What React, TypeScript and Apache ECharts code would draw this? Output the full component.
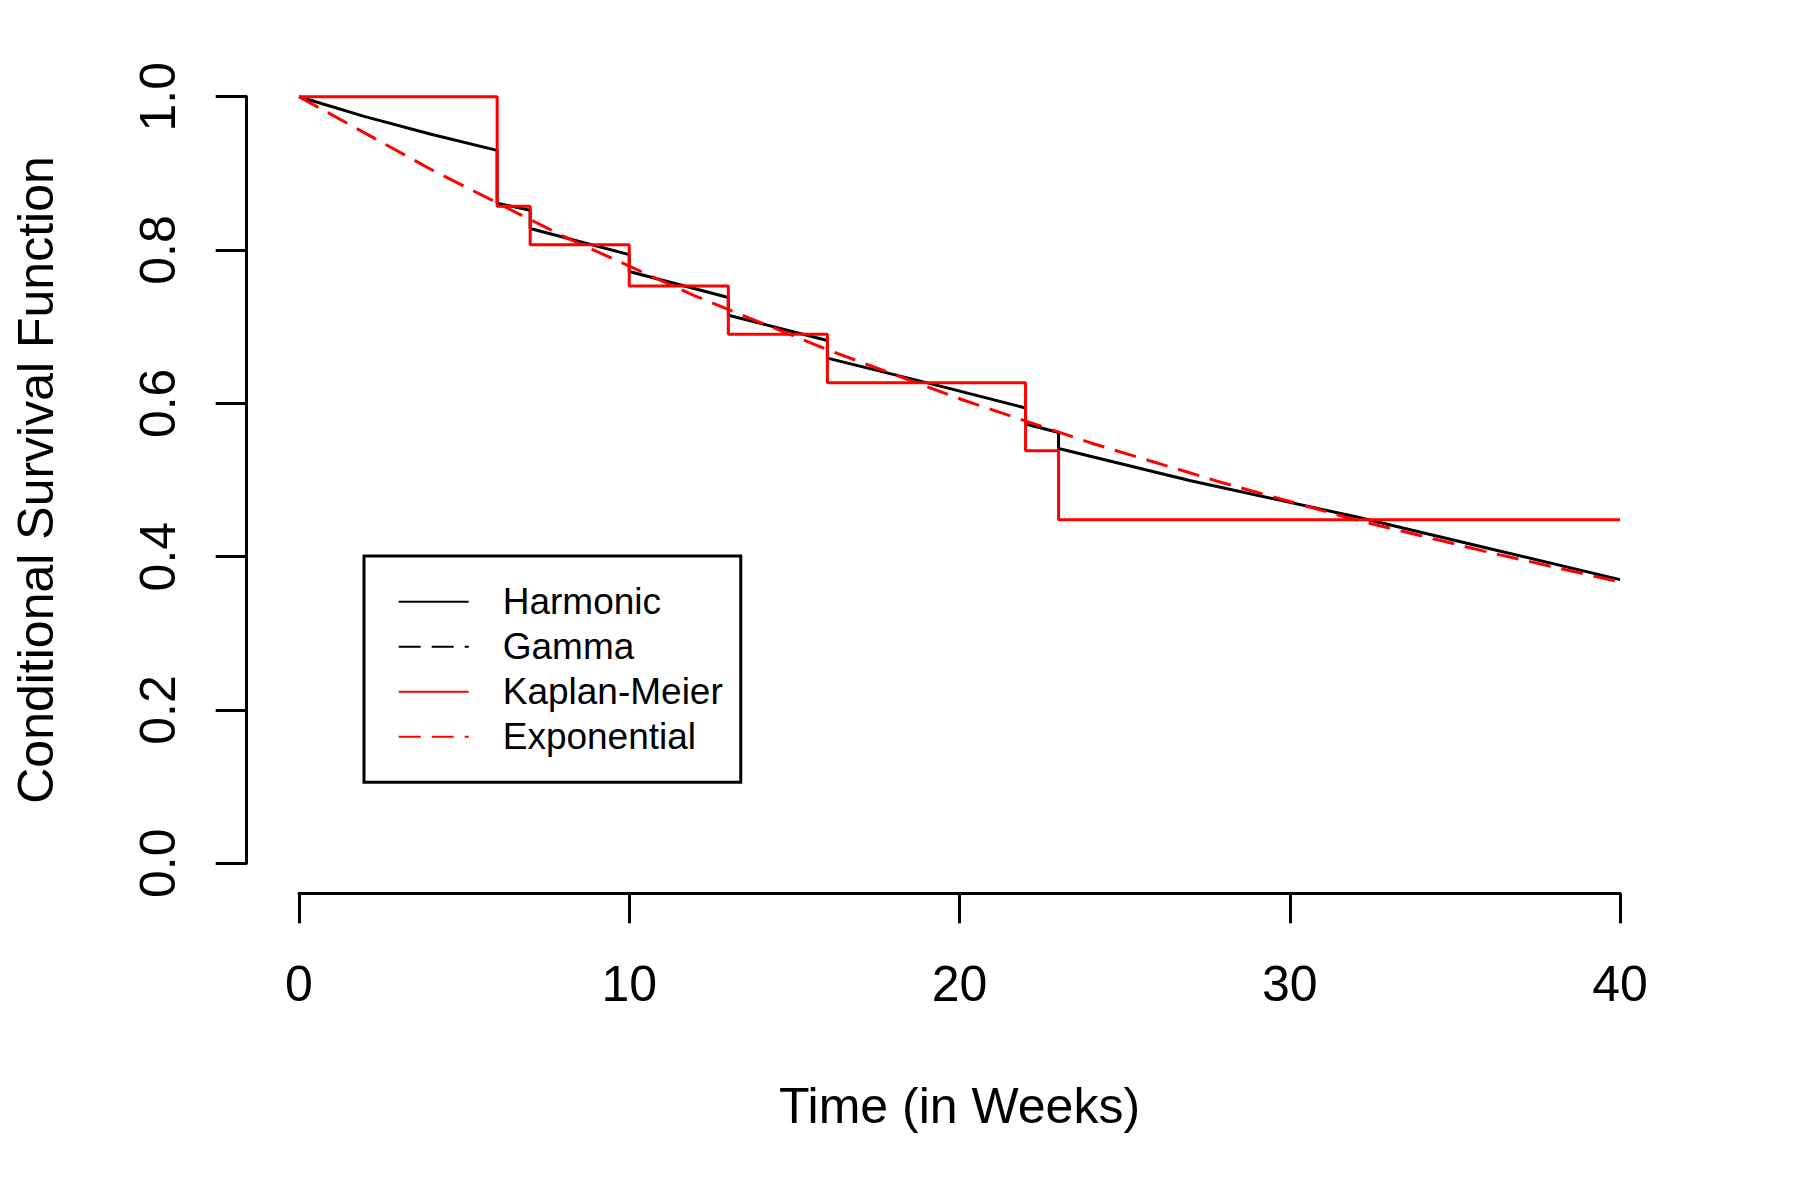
import React, { useEffect, useRef } from "react";
import * as echarts from "echarts";

// ---- Data ----
// Kaplan-Meier step estimate: [week, survival from that week on]
const kmTimes = [0, 6, 7, 10, 13, 16, 22, 23, 40];
const kmValues = [1.0, 0.857, 0.807, 0.753, 0.69, 0.627, 0.538, 0.448, 0.448];

// Harmonic estimate (with jumps at event times: repeated weeks)
const harmonicTimes = [0, 2, 4, 6, 6, 7, 7, 10, 10, 13, 13, 16, 16, 19, 22, 22, 23, 23, 27, 32, 36, 40];
const harmonicValues = [
  1.0, 0.974, 0.951, 0.93, 0.861, 0.852, 0.828, 0.794, 0.772, 0.738, 0.715, 0.682, 0.659, 0.627,
  0.594, 0.573, 0.562, 0.541, 0.499, 0.452, 0.411, 0.37,
];

// Exponential fit
const expTimes = [0, 4, 8, 12, 16, 20, 24, 28, 32, 36, 40];
const expValues = [1.0, 0.905, 0.818, 0.74, 0.67, 0.606, 0.548, 0.496, 0.448, 0.406, 0.367];

// Gamma fit (not visible separately in the picture; legend entry only)
const gammaTimes: number[] = [];
const gammaValues: number[] = [];

const seriesNames = ["Harmonic", "Gamma", "Kaplan-Meier", "Exponential"];

const xTicks = { min: 0, max: 40, interval: 10 };
const yTicks = { min: 0, max: 1, interval: 0.2 };

const pairs = (xs: number[], ys: number[]) => xs.map((x, i) => [x, ys[i]]);

const FONT = "Liberation Sans, Arial, Helvetica, sans-serif";
const LW = 3;
const DASH = [22, 11];

export default function App() {
  const ref = useRef<HTMLDivElement>(null);

  useEffect(() => {
    document.body.style.margin = "0";
    if (!ref.current) return;
    const chart = echarts.init(ref.current, null, { renderer: "svg" });
    chart.setOption({
      animation: false,
      backgroundColor: "#ffffff",
      textStyle: { fontFamily: FONT, color: "#000" },
      grid: { left: 299, right: 180, top: 96.7, bottom: 336.7, containLabel: false },
      xAxis: {
        type: "value",
        min: xTicks.min,
        max: xTicks.max,
        interval: xTicks.interval,
        offset: 30,
        axisLine: { show: true, onZero: false, lineStyle: { color: "#000", width: LW } },
        axisTick: { show: true, length: 30, inside: false, lineStyle: { color: "#000", width: LW } },
        axisLabel: { fontSize: 50, color: "#000", fontFamily: FONT, margin: 66 },
        splitLine: { show: false },
        name: "Time (in Weeks)",
        nameLocation: "middle",
        nameGap: 188,
        nameTextStyle: { fontSize: 50, color: "#000", fontFamily: FONT },
      },
      yAxis: {
        type: "value",
        min: yTicks.min,
        max: yTicks.max,
        interval: yTicks.interval,
        offset: 52.3,
        axisLine: { show: true, onZero: false, lineStyle: { color: "#000", width: LW } },
        axisTick: { show: true, length: 31, inside: false, lineStyle: { color: "#000", width: LW } },
        axisLabel: {
          fontSize: 50,
          color: "#000",
          fontFamily: FONT,
          rotate: 90,
          margin: 64,
          formatter: (v: number) => v.toFixed(1),
        },
        splitLine: { show: false },
        name: "Conditional Survival Function",
        nameLocation: "middle",
        nameGap: 186,
        nameTextStyle: { fontSize: 50, color: "#000", fontFamily: FONT },
      },
      legend: {
        orient: "vertical",
        left: 364,
        top: 556,
        padding: [23.2, 18, 23, 33.7],
        itemGap: 0,
        itemWidth: 70,
        itemHeight: 2,
        borderColor: "#000",
        borderWidth: LW,
        backgroundColor: "#fff",
        itemStyle: { opacity: 0 },
        textStyle: {
          fontSize: 37,
          lineHeight: 45,
          color: "#000",
          fontFamily: FONT,
          padding: [0, 0, 0, 29],
        },
        data: seriesNames,
      },
      series: [
        {
          name: seriesNames[0],
          type: "line",
          data: pairs(harmonicTimes, harmonicValues),
          symbol: "none",
          clip: false,
          lineStyle: { color: "#000", width: LW, type: "solid" },
          itemStyle: { color: "#000" },
          z: 2,
        },
        {
          name: seriesNames[1],
          type: "line",
          data: pairs(gammaTimes, gammaValues),
          symbol: "none",
          clip: false,
          lineStyle: { color: "#000", width: LW, type: DASH },
          itemStyle: { color: "#000" },
          z: 3,
        },
        {
          name: seriesNames[2],
          type: "line",
          step: "end",
          data: pairs(kmTimes, kmValues),
          symbol: "none",
          clip: false,
          lineStyle: { color: "#ff0000", width: LW, type: "solid" },
          itemStyle: { color: "#ff0000" },
          z: 4,
        },
        {
          name: seriesNames[3],
          type: "line",
          data: pairs(expTimes, expValues),
          symbol: "none",
          clip: false,
          lineStyle: { color: "#ff0000", width: LW, type: DASH },
          itemStyle: { color: "#ff0000" },
          z: 5,
        },
      ],
    });
    return () => chart.dispose();
  }, []);

  return <div ref={ref} style={{ width: 1800, height: 1200 }} />;
}
